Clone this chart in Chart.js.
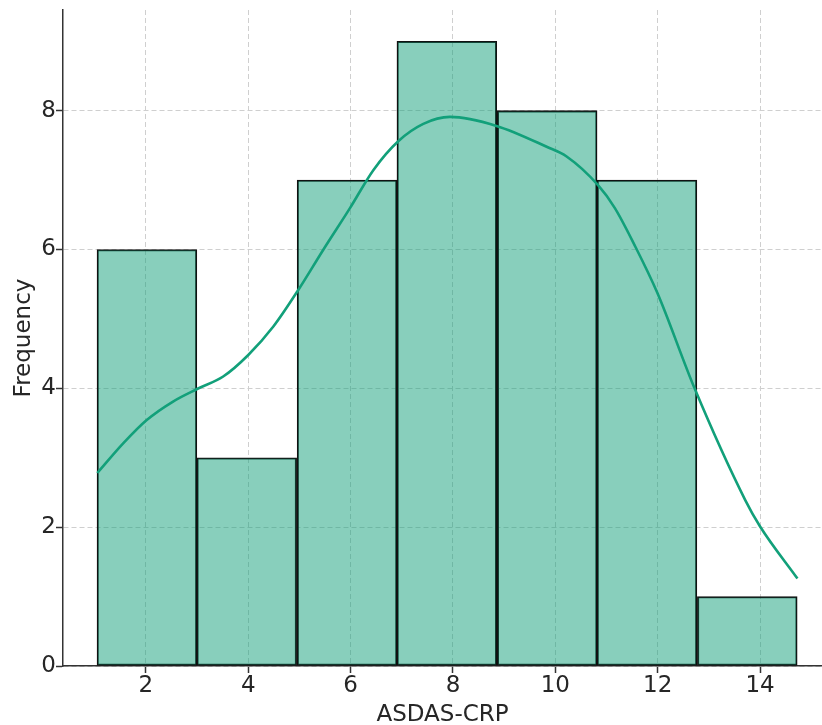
<!DOCTYPE html>
<html>
<head>
<meta charset="utf-8">
<title>ASDAS-CRP histogram</title>
<script src="https://cdn.jsdelivr.net/npm/chart.js@4/dist/chart.umd.min.js"></script>
<style>
  html, body { margin: 0; padding: 0; background: #fff; }
  #wrap { width: 822px; height: 725px; }
</style>
</head>
<body>
<div id="wrap"><canvas id="chart" width="822" height="725"></canvas></div>
<script>
// histogram bins (centres) and counts
const binCenters = [2.02, 3.97, 5.93, 7.88, 9.84, 11.79, 13.75];
const binCounts = [6, 3, 7, 9, 8, 7, 1];

// density curve, scaled to counts
const kdeX = [1.05, 1.56, 2.01, 2.53, 3.00, 3.51, 4.00, 4.49, 4.98, 5.46, 5.99, 6.45, 6.93, 7.42, 7.94,
              8.85, 9.83, 10.22, 10.83, 11.16, 11.55, 11.99, 12.72, 13.71, 14.00, 14.73];
const kdeY = [2.78, 3.21, 3.54, 3.81, 3.99, 4.17, 4.48, 4.89, 5.42, 5.99, 6.60, 7.15, 7.56, 7.81, 7.91,
              7.78, 7.48, 7.34, 6.93, 6.60, 6.06, 5.38, 4.00, 2.39, 2.01, 1.26];

const xTicks = [2, 4, 6, 8, 10, 12, 14];
const yTicks = [0, 2, 4, 6, 8];

const teal = 'rgb(18, 160, 122)';
const tealFill = 'rgba(18, 160, 122, 0.5)';
const textColor = '#262626';
const font = { family: 'DejaVu Sans', size: 23 };

const gridOpts = {
    color: '#cfcfcf', lineWidth: 1, offset: false,
    drawTicks: true, tickLength: 7, tickColor: '#333', tickWidth: 1.5, tickBorderDash: []
};

const ctx = document.getElementById('chart').getContext('2d');

new Chart(ctx, {
    type: 'bar',
    data: {
        datasets: [
            {
                type: 'line',
                label: 'KDE',
                data: kdeX.map((x, i) => ({ x: x, y: kdeY[i] })),
                borderColor: teal,
                borderWidth: 2.6,
                pointRadius: 0,
                cubicInterpolationMode: 'monotone',
                fill: false,
                order: 1
            },
            {
                type: 'bar',
                label: 'Frequency',
                data: binCenters.map((x, i) => ({ x: x, y: binCounts[i] })),
                backgroundColor: tealFill,
                borderColor: '#111',
                borderWidth: 1.4,
                borderSkipped: false,
                barPercentage: 1,
                categoryPercentage: 1,
                order: 2
            }
        ]
    },
    options: {
        responsive: false,
        animation: false,
        layout: { padding: { top: 10, right: 0, left: 0, bottom: 0 } },
        plugins: {
            legend: { display: false },
            tooltip: { enabled: false }
        },
        scales: {
            x: {
                type: 'linear',
                offset: false,
                min: 0.38,
                max: 15.21,
                afterFit: s => { s.height = 59; },
                afterBuildTicks: s => { s.ticks = xTicks.map(v => ({ value: v })); },
                ticks: { font: font, color: textColor, padding: -1, includeBounds: false },
                grid: gridOpts,
                border: { color: '#333', width: 1.5, dash: [5, 3] },
                title: { display: true, text: 'ASDAS-CRP', font: font, color: textColor, padding: { top: 0, bottom: -4 } }
            },
            y: {
                min: 0,
                max: 9.45,
                // no extra room above the axis for the top label
                afterFit: s => { s.width = 63; s.paddingTop = 0; },
                afterBuildTicks: s => { s.ticks = yTicks.map(v => ({ value: v })); },
                ticks: { font: font, color: textColor, padding: 0, includeBounds: false },
                grid: gridOpts,
                border: { color: '#333', width: 1.5, dash: [5, 3] },
                title: { display: true, text: 'Frequency', font: font, color: textColor, padding: { top: 10, bottom: 0 } }
            }
        }
    }
});
</script>
</body>
</html>
